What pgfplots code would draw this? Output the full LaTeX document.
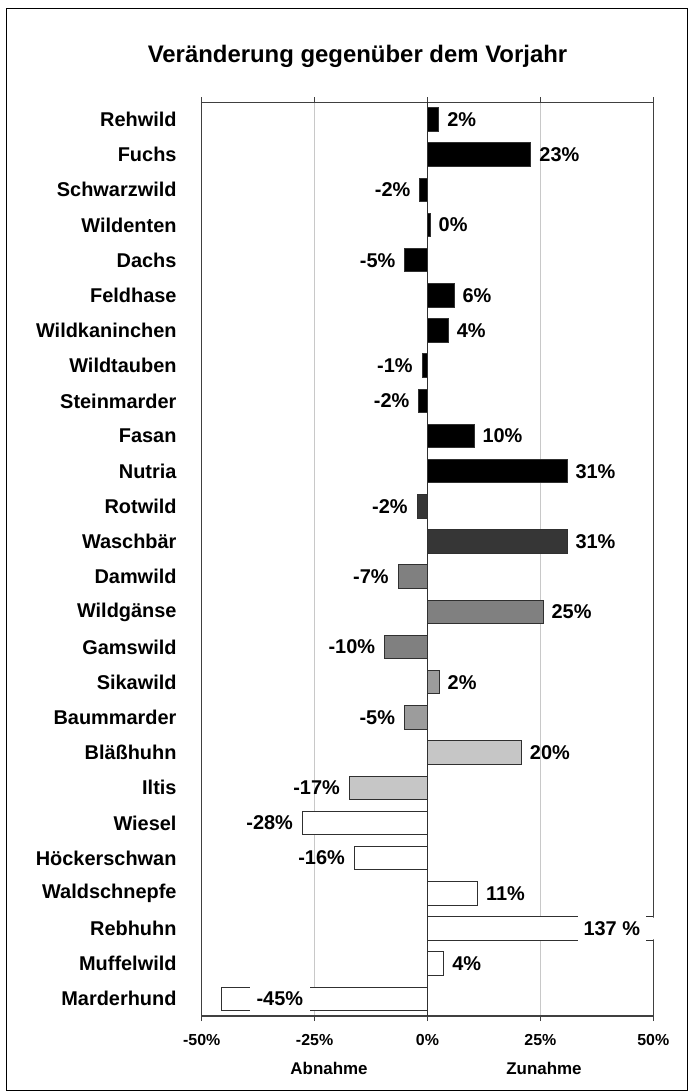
\documentclass[border=0pt]{standalone}
\usepackage{fontspec}
\setmainfont{Liberation Sans}
\usepackage{pgfplots}
\pgfplotsset{compat=1.18}
\definecolor{framec}{HTML}{404040}
\definecolor{barline}{HTML}{303030}
\definecolor{gridc}{HTML}{C8C8C8}
\definecolor{gA}{HTML}{000000}
\definecolor{gB}{HTML}{363636}
\definecolor{gC}{HTML}{808080}
\definecolor{gD}{HTML}{9C9C9C}
\definecolor{gE}{HTML}{C6C6C6}
\newcommand{\lblfont}{\fontsize{20}{24}\selectfont\bfseries}
\begin{document}
\begin{tikzpicture}[x=1bp,y=1bp]
\path[use as bounding box] (0,0) rectangle (688,1092);
\draw[line width=1bp, black] (6,1) rectangle (687,1083);
\node[font=\fontsize{24}{28}\selectfont\bfseries, anchor=base] at (357.5,1029) {Veränderung gegenüber dem Vorjahr};
\begin{axis}[
  at={(201.7bp,76bp)}, anchor=south west,
  width=451.6bp, height=913.7bp, scale only axis,
  clip mode=individual,
  xmin=-50, xmax=50, ymin=-0.49, ymax=25.49, y dir=reverse,
  xbar, bar width=23.5bp, bar shift=0pt,
  axis line style={framec, line width=1.3bp},
  xtick={-50,-25,0,25,50},
  xticklabels={-50\%,-25\%,0\%,25\%,50\%},
  xmajorgrids, grid style={gridc, line width=1.3bp},
  tick align=outside, major tick length=5bp,
  xtick style={framec, line width=1.3bp},
  xticklabel style={font=\fontsize{16}{19}\selectfont\bfseries, inner sep=0pt, yshift=-13bp},
  ytick={0,...,25},
  yticklabels={Rehwild,Fuchs,Schwarzwild,Wildenten,Dachs,Feldhase,Wildkaninchen,Wildtauben,Steinmarder,Fasan,Nutria,Rotwild,Waschbär,Damwild,Wildgänse,Gamswild,Sikawild,Baummarder,Bläßhuhn,Iltis,Wiesel,Höckerschwan,Waldschnepfe,Rebhuhn,Muffelwild,Marderhund},
  ytick style={draw=none},
  yticklabel style={font=\lblfont, anchor=east, inner sep=0pt, xshift=-20bp},
  vlabP/.style={nodes near coords, point meta=explicit symbolic,
     every node near coord/.style={font=\lblfont, text=black, anchor=west, inner xsep=8bp, inner ysep=0pt}},
  vlabN/.style={nodes near coords, point meta=explicit symbolic,
     every node near coord/.style={font=\lblfont, text=black, anchor=east, inner xsep=9bp, inner ysep=0pt}},
  every axis plot/.append style={draw=barline, line width=1bp},
]
% black group
\addplot[fill=gA, vlabP] coordinates {
 (2.5,0) [2\%] (22.9,1) [23\%] (0.6,3) [0\%] (5.9,5) [6\%] (4.6,6) [4\%]
 (10.3,9) [10\%] (30.9,10) [31\%]};
\addplot[fill=gA, vlabN] coordinates {
 (-1.7,2) [-2\%] (-5.0,4) [-5\%] (-1.2,7) [-1\%] (-1.9,8) [-2\%]};
% dark grey
\addplot[fill=gB, vlabP] coordinates {(30.9,12) [31\%]};
\addplot[fill=gB, vlabN] coordinates {(-2.3,11) [-2\%]};
% mid grey
\addplot[fill=gC, vlabP] coordinates {(25.6,14) [25\%]};
\addplot[fill=gC, vlabN] coordinates {(-6.5,13) [-7\%] (-9.5,15) [-10\%]};
% grey
\addplot[fill=gD, vlabP] coordinates {(2.6,16) [2\%]};
\addplot[fill=gD, vlabN] coordinates {(-5.1,17) [-5\%]};
% light grey
\addplot[fill=gE, vlabP] coordinates {(20.8,18) [20\%]};
\addplot[fill=gE, vlabN] coordinates {(-17.3,19) [-17\%]};
% white
\addplot[fill=white, vlabP] coordinates {(11.1,22) [11\%] (3.6,24) [4\%]};
\addplot[fill=white, vlabN] coordinates {(-27.7,20) [-28\%] (-16.2,21) [-16\%]};
\addplot[fill=white] coordinates {(137,23) (-45.6,25)};
\draw[barline, line width=1.3bp] (axis cs:0,-0.49) -- (axis cs:0,25.49);
\node[fill=white, font=\lblfont, inner xsep=6bp, minimum height=28bp] at (axis cs:40.8,23) {137 \%};
\node[fill=white, font=\lblfont, inner xsep=6.5bp, minimum height=28bp] at (axis cs:-32.7,25) {-45\%};
\fill[white] ([xshift=-0.6bp]axis cs:50,22.69) rectangle ([xshift=1.2bp]axis cs:50,23.31);
\node[font=\fontsize{17}{20}\selectfont\bfseries, anchor=base] at ([yshift=-58bp]axis cs:-21.8,25.49) {Abnahme};
\node[font=\fontsize{17}{20}\selectfont\bfseries, anchor=base] at ([yshift=-58bp]axis cs:25.8,25.49) {Zunahme};
\end{axis}
\end{tikzpicture}
\end{document}
